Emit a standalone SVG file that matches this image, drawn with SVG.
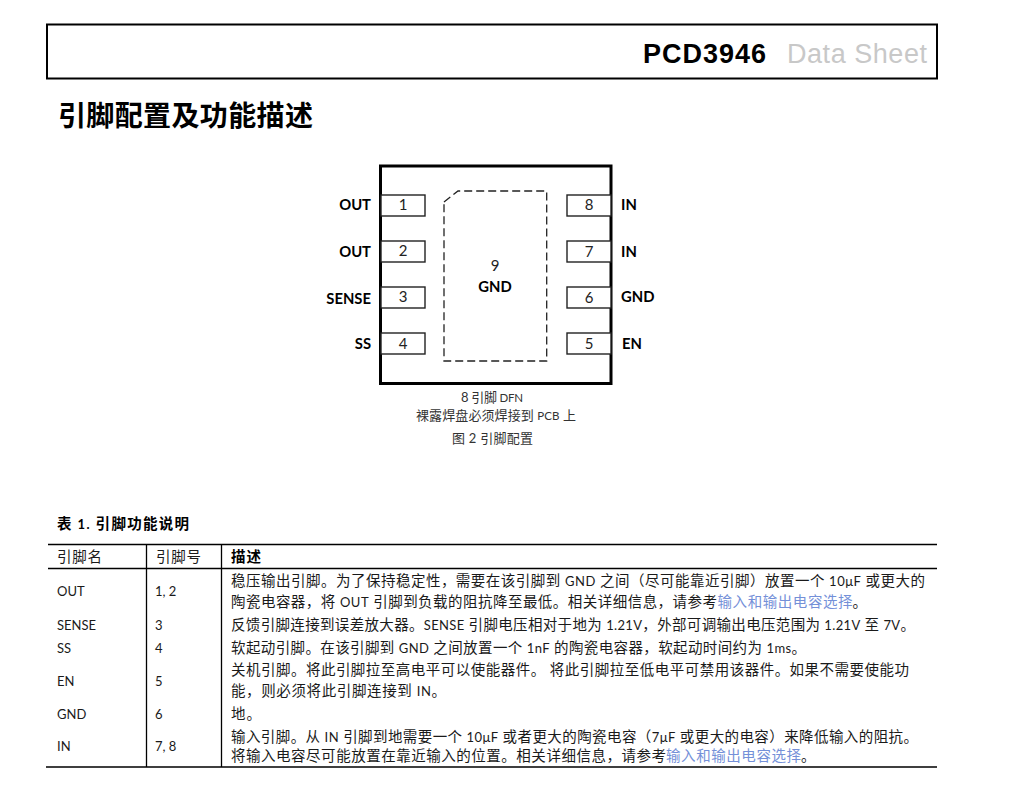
<svg xmlns="http://www.w3.org/2000/svg" width="1012" height="801" viewBox="0 0 1012 801">
<style>
text{font-family:"Lato","Noto Sans CJK SC",sans-serif;fill:#1a1a1a}
.t{font-size:14.5px}
.a{font-size:13px}
.c{font-size:13px;fill:#333}
.s{font-size:11.5px}
.l{fill:#7490d8}
.b{font-weight:700;fill:#000}
.pn{font-size:15px;text-anchor:middle;fill:#222}
.pl{font-size:14.8px;font-weight:700;fill:#000}
.e{text-anchor:end}
.pin{fill:#fff;stroke:#222;stroke-width:1.4}
.rule{stroke:#000;stroke-width:1.3;fill:none}
</style>
<rect width="1012" height="801" fill="#fff"/>
<g id="header">
<rect x="47" y="24.5" width="890" height="54" fill="#fff" stroke="#000" stroke-width="2"/>
<text x="643" y="62.5" textLength="123" style="font-family:'Liberation Sans',sans-serif;font-size:27px;font-weight:700;fill:#000">PCD3946</text>
<text x="787" y="62.5" textLength="140" style="font-family:'Liberation Sans',sans-serif;font-size:27px;fill:#c8c8c8">Data Sheet</text>
</g>
<text id="title" x="58" y="126" textLength="255" style="font-size:28px;font-weight:700;fill:#000">引脚配置及功能描述</text>
<g id="chip">
<rect x="380.5" y="166" width="230.5" height="217.5" fill="#fff" stroke="#000" stroke-width="3"/>
</g>
<g id="pad9">
<path d="M444 202 L458 191 H546.7 V361 H444 Z" fill="none" stroke="#222" stroke-width="1.3" stroke-dasharray="8 4"/>
<text x="495" y="270.5" class="pn">9</text>
<text x="495" y="291.5" class="pl" text-anchor="middle">GND</text>
</g>
<g id="pin1"><rect class="pin" x="381" y="195" width="44" height="21"/><text x="403" y="210" class="pn">1</text><text x="371" y="210" class="pl e">OUT</text></g>
<g id="pin2"><rect class="pin" x="381" y="241" width="44" height="21"/><text x="403" y="256" class="pn">2</text><text x="371" y="257" class="pl e">OUT</text></g>
<g id="pin3"><rect class="pin" x="381" y="287" width="44" height="21"/><text x="403" y="302" class="pn">3</text><text x="371" y="304" class="pl e">SENSE</text></g>
<g id="pin4"><rect class="pin" x="381" y="333" width="44" height="21"/><text x="403" y="349" class="pn">4</text><text x="371" y="349" class="pl e">SS</text></g>
<g id="pin8"><rect class="pin" x="567" y="195" width="44" height="21"/><text x="589" y="210" class="pn">8</text><text x="621" y="210" class="pl">IN</text></g>
<g id="pin7"><rect class="pin" x="567" y="241" width="44" height="21"/><text x="589" y="257" class="pn">7</text><text x="621" y="257" class="pl">IN</text></g>
<g id="pin6"><rect class="pin" x="567" y="287" width="44" height="21"/><text x="589" y="303" class="pn">6</text><text x="621" y="302" class="pl">GND</text></g>
<g id="pin5"><rect class="pin" x="567" y="333" width="44" height="21"/><text x="589" y="349" class="pn">5</text><text x="622" y="349" class="pl">EN</text></g>
<g id="captions">
<text x="461" y="402" class="c" textLength="62">8 引脚 <tspan class="s">DFN</tspan></text>
<text x="416" y="420" class="c" textLength="160">裸露焊盘必须焊接到 <tspan class="s">PCB</tspan> 上</text>
<text x="452" y="443" class="c" textLength="81">图 2 引脚配置</text>
</g>
<g id="table">
<text x="57" y="529" class="t b" textLength="132"><tspan>表 </tspan><tspan class="a">1.</tspan> 引脚功能说明</text>
<path class="rule" d="M48 544.5H937M48 568.5H937M46 767H937M146.5 544.5V767M221.5 544.5V767"/>
<text x="57" y="562" class="t" textLength="45">引脚名</text>
<text x="156" y="562" class="t" textLength="45">引脚号</text>
<text x="231" y="562" class="t b" textLength="30">描述</text>
<text x="57" y="596" class="a">OUT</text><text x="155" y="596" class="a">1, 2</text>
<text x="57" y="630" class="a">SENSE</text><text x="155" y="630" class="a">3</text>
<text x="57" y="653" class="a">SS</text><text x="155" y="653" class="a">4</text>
<text x="57" y="686" class="a">EN</text><text x="155" y="686" class="a">5</text>
<text x="57" y="719" class="a">GND</text><text x="155" y="719" class="a">6</text>
<text x="57" y="751" class="a">IN</text><text x="155" y="751" class="a">7, 8</text>
<text x="231" y="586" class="t" textLength="694">稳压输出引脚。为了保持稳定性，需要在该引脚到 <tspan class="a">GND</tspan> 之间（尽可能靠近引脚）放置一个 <tspan class="a">10μF</tspan> 或更大的</text>
<text x="231" y="607" class="t" textLength="486">陶瓷电容器，将 <tspan class="a">OUT</tspan> 引脚到负载的阻抗降至最低。相关详细信息，请参考</text>
<text x="717.5" y="607" class="t l" textLength="135">输入和输出电容选择</text>
<text x="852.5" y="607" class="t">。</text>
<text x="231" y="630" class="t" textLength="684">反馈引脚连接到误差放大器。<tspan class="a">SENSE</tspan> 引脚电压相对于地为 <tspan class="a">1.21V</tspan>，外部可调输出电压范围为 <tspan class="a">1.21V</tspan> 至 <tspan class="a">7V</tspan>。</text>
<text x="231" y="653" class="t" textLength="575">软起动引脚。在该引脚到 <tspan class="a">GND</tspan> 之间放置一个 <tspan class="a">1nF</tspan> 的陶瓷电容器，软起动时间约为 <tspan class="a">1ms</tspan>。</text>
<text x="231" y="675" class="t" textLength="678">关机引脚。将此引脚拉至高电平可以使能器件。 将此引脚拉至低电平可禁用该器件。如果不需要使能功</text>
<text x="231" y="696" class="t" textLength="215">能，则必须将此引脚连接到 <tspan class="a">IN</tspan>。</text>
<text x="231" y="719" class="t" textLength="30">地。</text>
<text x="231" y="742" class="t" textLength="687">输入引脚。从 <tspan class="a">IN</tspan> 引脚到地需要一个 <tspan class="a">10μF</tspan> 或者更大的陶瓷电容（<tspan class="a">7μF</tspan> 或更大的电容）来降低输入的阻抗。</text>
<text x="231" y="761" class="t" textLength="435">将输入电容尽可能放置在靠近输入的位置。相关详细信息，请参考</text>
<text x="666" y="761" class="t l" textLength="135">输入和输出电容选择</text>
<text x="801" y="761" class="t">。</text>
</g>
</svg>
